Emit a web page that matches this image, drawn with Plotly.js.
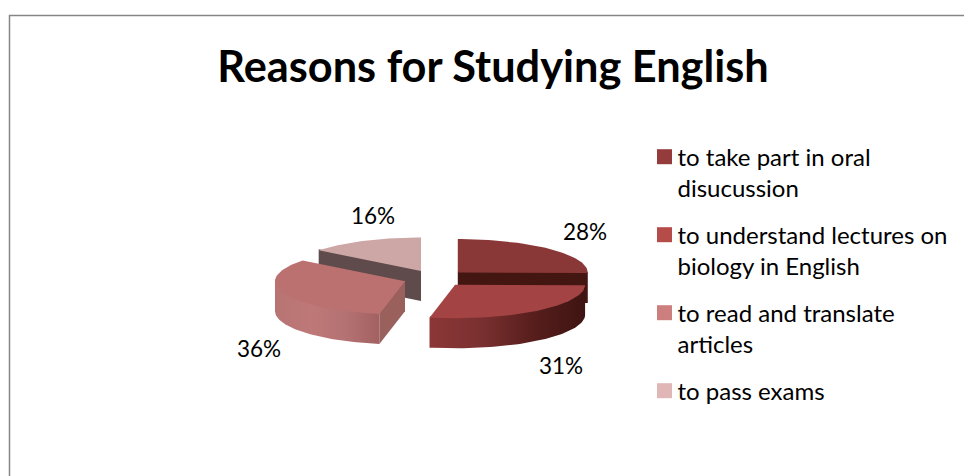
<!DOCTYPE html>
<html>
<head>
<meta charset="utf-8">
<script src="https://cdn.plot.ly/plotly-3.0.1.min.js"></script>
<style>html,body{margin:0;padding:0;background:#fff}text{font-variant-ligatures:none}</style>
</head>
<body>
<div id="chart" style="width:964px;height:476px"></div>
<script>
// Survey answers: the share of each wedge follows the stated percentages.
var categories = [
  'to take part in oral<br>disucussion',
  'to understand lectures on<br>biology in English',
  'to read and translate<br>articles',
  'to pass exams'
];
var percents = [28, 31, 36, 16];
var legendColors = ['#953B3B', '#B64C4A', '#CD7F7F', '#E0B6B6'];
var topColors = ['#8A3737', '#A34343', '#BC7171', '#CDA6A6'];
var cutColors = ['#431612', null, '#9A605C', '#5F4B4B'];
var wallGradients = [
  null,
  ['#8C3636', '#7A3030', '#571E1C', '#3E1412'],
  ['#B87373', '#BE7878', '#B57272', '#A26060'],
  null
];
var labelX = [585, 561, 259, 373];
var labelY = [234, 368, 351, 218];

// Pie projection, in page pixels (the axes map 1:1 to the page).
var cx = 435, cy = 278.4, rx = 130, ry = 33.5, burst = 32, depth = 30;
var legendSize = 24, legendLead = legendSize * 1.3;

var total = percents.reduce(function (a, b) { return a + b; }, 0);
var edges = [0];
percents.forEach(function (p, i) { edges.push(edges[i] + p / total * 2 * Math.PI); });

function apex(i) {
  var mid = (edges[i] + edges[i + 1]) / 2;
  return [cx + burst * Math.sin(mid), cy - burst * (ry / rx) * Math.cos(mid)];
}
function rim(c, a) { return [c[0] + rx * Math.sin(a), c[1] - ry * Math.cos(a)]; }
function arc(c, a0, a1) {
  var pts = [], n = 60;
  for (var k = 0; k <= n; k++) pts.push(rim(c, a0 + (a1 - a0) * k / n));
  return pts;
}
function polygon(pts, color, gradient) {
  var xs = pts.map(function (p) { return p[0]; });
  var ys = pts.map(function (p) { return p[1]; });
  xs.push(xs[0]); ys.push(ys[0]);
  var t = { type: 'scatter', mode: 'lines', x: xs, y: ys, fill: 'toself',
    line: { width: 0, color: 'rgba(0,0,0,0)' }, hoverinfo: 'skip', showlegend: false };
  if (gradient) {
    t.fillgradient = { type: 'horizontal', colorscale: gradient.map(function (col, j) {
      return [j / (gradient.length - 1), col];
    }) };
  } else {
    t.fillcolor = color;
  }
  return t;
}
function topFace(i) {
  var c = apex(i);
  return polygon([c].concat(arc(c, edges[i], edges[i + 1])), topColors[i]);
}
function cutFace(i, a) {
  var c = apex(i), r = rim(c, a);
  // The upper edge tucks under the top face so no seam shows between them.
  return polygon([[c[0], c[1] - 1], [r[0], r[1] - 1], [r[0], r[1] + depth], [c[0], c[1] + depth]], cutColors[i]);
}
function wallFace(i, a0, a1) {
  var c = apex(i), outer = arc(c, a0, a1);
  var lower = outer.map(function (p) { return [p[0], p[1] + depth]; }).reverse();
  var upper = outer.map(function (p) { return [c[0] + (p[0] - c[0]) * 0.96, c[1] + (p[1] - c[1]) * 0.96]; });
  return polygon(upper.concat([outer[outer.length - 1]], lower, [outer[0]]), null, wallGradients[i]);
}

// Painted from the back of the pie to the front.
var traces = [
  cutFace(3, edges[3]), topFace(3),
  cutFace(0, edges[1]), topFace(0),
  wallFace(2, edges[2], 1.5 * Math.PI), cutFace(2, edges[2]), topFace(2),
  wallFace(1, edges[1], edges[2]), topFace(1)
];

traces.push({
  type: 'scatter', mode: 'text', x: labelX, y: labelY,
  text: percents.map(function (p) { return p + '%'; }),
  textposition: 'middle center',
  textfont: { family: 'Lato, sans-serif', size: 22.5, color: '#000' },
  hoverinfo: 'skip', showlegend: false
});

categories.forEach(function (name, i) {
  traces.push({
    type: 'scatter', mode: 'markers', x: [null], y: [null], name: name,
    legendgroup: 'g' + i,
    marker: { symbol: 'square', size: 15, color: legendColors[i] }
  });
});

var layout = {
  width: 964, height: 476,
  margin: { l: 0, r: 0, t: 0, b: 0 },
  paper_bgcolor: '#fff', plot_bgcolor: '#fff',
  xaxis: { range: [0, 964], visible: false, fixedrange: true },
  yaxis: { range: [476, 0], visible: false, fixedrange: true },
  title: {
    text: 'Reasons for Studying English',
    font: { family: 'Lato, sans-serif', size: 43.3, weight: 700, color: '#000' },
    x: 493 / 964, xanchor: 'center', y: 1 - 67 / 476, yanchor: 'middle'
  },
  legend: {
    x: 644.5 / 964, xanchor: 'left', y: 1 - 119 / 476, yanchor: 'top',
    font: { family: 'Lato, sans-serif', size: legendSize, color: '#000' },
    tracegroupgap: 12.6, bgcolor: 'rgba(0,0,0,0)', itemclick: false, itemdoubleclick: false
  },
  shapes: [{
    type: 'rect', xref: 'x', yref: 'y', x0: 9.5, y0: 15.5, x1: 980, y1: 490,
    line: { color: '#868686', width: 1.5 }, fillcolor: 'rgba(0,0,0,0)', layer: 'below'
  }],
  showlegend: true
};

Plotly.newPlot('chart', traces, layout, { displayModeBar: false, staticPlot: true }).then(function (gd) {
  // Keep swatches beside the first line of a wrapped entry, close to its text,
  // and keep the single-line entry on the same vertical rhythm as the others.
  var box = gd.querySelector('.legend .scrollbox');
  if (box) box.removeAttribute('clip-path');
  gd.querySelectorAll('.legend .traces').forEach(function (entry) {
    var text = entry.querySelector('.legendtext');
    var lines = entry.querySelectorAll('tspan.line');
    var y = legendLead * 0.3;
    text.setAttribute('x', 33);
    text.setAttribute('y', y);
    lines.forEach(function (line) { line.setAttribute('x', 33); line.setAttribute('y', y); });
    if (lines.length < 2) {
      var m = /translate\(([-\d.]+)[ ,]+([-\d.]+)\)/.exec(entry.getAttribute('transform'));
      if (m) entry.setAttribute('transform',
        'translate(' + m[1] + ',' + (parseFloat(m[2]) + legendLead / 2) + ')');
    }
  });
});
</script>
</body>
</html>
